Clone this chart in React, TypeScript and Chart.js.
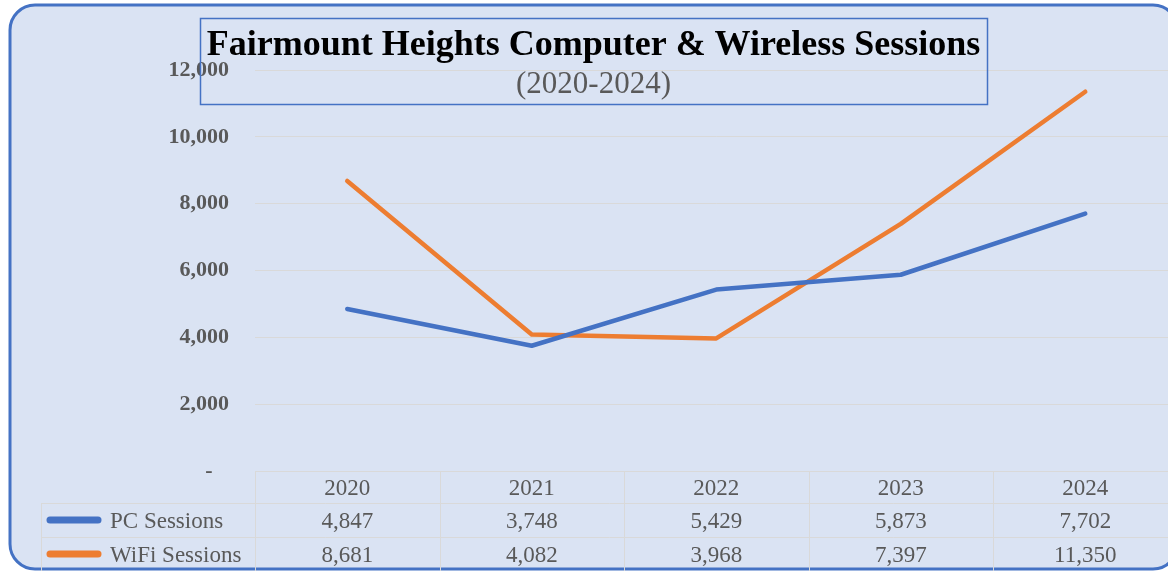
import React, { useEffect, useRef } from "react";
import { Chart, registerables } from "chart.js";

Chart.register(...registerables);

const years = ["2020", "2021", "2022", "2023", "2024"];
const pcSessions = [4847, 3748, 5429, 5873, 7702];
const wifiSessions = [8681, 4082, 3968, 7397, 11350];
const seriesNames = ["PC Sessions", "WiFi Sessions"];
const seriesColors = ["#4472c4", "#ed7d31"];
const titleText = "Fairmount Heights Computer & Wireless Sessions";
const subtitleText = "(2020-2024)";

const SERIF = "'Liberation Serif', 'Times New Roman', serif";
const CANVAS_W = 1200;
const CANVAS_H = 571;

const fmt = (v: number) => v.toLocaleString("en-US");

const decorPlugin = {
  id: "decor",
  beforeDraw(chart: any) {
    const ctx = chart.ctx as CanvasRenderingContext2D;
    ctx.save();
    ctx.fillStyle = "#ffffff";
    ctx.fillRect(0, 0, chart.width, chart.height);
    const x = 10, y = 5, w = 1168, h = 564, r = 25;
    ctx.beginPath();
    ctx.moveTo(x + r, y);
    ctx.lineTo(x + w - r, y);
    ctx.arcTo(x + w, y, x + w, y + r, r);
    ctx.lineTo(x + w, y + h - r);
    ctx.arcTo(x + w, y + h, x + w - r, y + h, r);
    ctx.lineTo(x + r, y + h);
    ctx.arcTo(x, y + h, x, y + h - r, r);
    ctx.lineTo(x, y + r);
    ctx.arcTo(x, y, x + r, y, r);
    ctx.closePath();
    ctx.fillStyle = "#dae3f3";
    ctx.fill();
    ctx.lineWidth = 3;
    ctx.strokeStyle = "#4472c4";
    ctx.stroke();
    ctx.restore();
  },
  afterDraw(chart: any) {
    const ctx = chart.ctx as CanvasRenderingContext2D;
    const xs = chart.scales.x;
    const area = chart.chartArea;
    const half = (xs.getPixelForValue(1) - xs.getPixelForValue(0)) / 2;
    const colLeft = xs.getPixelForValue(0) - half;
    const colRight = xs.getPixelForValue(years.length - 1) + half;
    const tableLeft = 41.5;
    const top = area.bottom;
    const rowBounds = [top, top + 32, top + 66, top + 100];

    ctx.save();
    // table grid lines
    ctx.strokeStyle = "#d9d9d9";
    ctx.lineWidth = 1;
    ctx.beginPath();
    ctx.moveTo(colLeft, rowBounds[0] + 0.5);
    ctx.lineTo(colRight, rowBounds[0] + 0.5);
    for (let r = 1; r < rowBounds.length; r++) {
      ctx.moveTo(tableLeft, rowBounds[r] + 0.5);
      ctx.lineTo(colRight, rowBounds[r] + 0.5);
    }
    for (let i = 0; i <= years.length; i++) {
      const px = Math.round(colLeft + i * 2 * half) + 0.5;
      ctx.moveTo(px, rowBounds[0]);
      ctx.lineTo(px, rowBounds[3]);
    }
    ctx.moveTo(tableLeft, rowBounds[1]);
    ctx.lineTo(tableLeft, rowBounds[3]);
    ctx.stroke();

    // header years
    ctx.fillStyle = "#595959";
    ctx.font = `23px ${SERIF}`;
    ctx.textAlign = "center";
    ctx.textBaseline = "alphabetic";
    years.forEach((yr, i) => {
      const cx = xs.getPixelForValue(i);
      ctx.fillText(yr, cx, (rowBounds[0] + rowBounds[1]) / 2 + 7.5);
    });
    const seriesData = [pcSessions, wifiSessions];
    seriesData.forEach((vals, s) => {
      const cy = (rowBounds[s + 1] + rowBounds[s + 2]) / 2;
      vals.forEach((v, i) => {
        ctx.fillText(fmt(v), xs.getPixelForValue(i), cy + 7.5);
      });
      // legend key
      ctx.strokeStyle = seriesColors[s];
      ctx.lineWidth = 7;
      ctx.lineCap = "round";
      ctx.beginPath();
      ctx.moveTo(50, cy);
      ctx.lineTo(98, cy);
      ctx.stroke();
      ctx.textAlign = "left";
      ctx.fillText(seriesNames[s], 110, cy + 7.5);
      ctx.textAlign = "center";
    });

    // title box
    ctx.strokeStyle = "#4472c4";
    ctx.lineWidth = 1.5;
    ctx.strokeRect(200.5, 18.5, 787, 86);
    ctx.fillStyle = "#000000";
    ctx.font = `bold 36px ${SERIF}`;
    ctx.textAlign = "center";
    ctx.fillText(titleText, 593.5, 55);
    ctx.fillStyle = "#595959";
    ctx.font = `31px ${SERIF}`;
    ctx.fillText(subtitleText, 593.5, 93);
    ctx.restore();
  },
};

export default function App() {
  const canvasRef = useRef<HTMLCanvasElement | null>(null);

  useEffect(() => {
    const canvas = canvasRef.current;
    if (!canvas) return;
    const chart = new Chart(canvas, {
      type: "line",
      data: {
        labels: years,
        datasets: [
          {
            label: seriesNames[0],
            data: pcSessions,
            borderColor: seriesColors[0],
            backgroundColor: seriesColors[0],
            borderWidth: 4.5,
            pointRadius: 0,
            tension: 0,
            borderCapStyle: "round",
            borderJoinStyle: "round",
          },
          {
            label: seriesNames[1],
            data: wifiSessions,
            borderColor: seriesColors[1],
            backgroundColor: seriesColors[1],
            borderWidth: 4.5,
            pointRadius: 0,
            tension: 0,
            borderCapStyle: "round",
            borderJoinStyle: "round",
          },
        ],
      },
      options: {
        responsive: false,
        animation: false,
        devicePixelRatio: 1,
        layout: { padding: { top: 70, bottom: 100, left: 0, right: CANVAS_W - 1177.5 } },
        plugins: {
          legend: { display: false },
          title: { display: false },
          tooltip: { enabled: false },
        },
        scales: {
          x: {
            type: "category",
            display: false,
            offset: true,
          },
          y: {
            min: 0,
            max: 12000,
            border: { display: false },
            grid: { color: "#d9d9d9", lineWidth: 1, drawTicks: false },
            afterFit: (scale: any) => {
              scale.width = 255;
            },
            ticks: {
              stepSize: 2000,
              padding: 26,
              color: "#595959",
              font: { family: SERIF, size: 22, weight: "bold" },
              callback: (v: any) => (Number(v) === 0 ? "-   " : fmt(Number(v))),
            },
          },
        },
      },
      plugins: [decorPlugin],
    });
    return () => chart.destroy();
  }, []);

  return (
    <div
      style={{
        position: "absolute",
        left: 0,
        top: 0,
        width: 1168,
        height: 571,
        overflow: "hidden",
        background: "#ffffff",
      }}
    >
      <canvas
        ref={canvasRef}
        width={CANVAS_W}
        height={CANVAS_H}
        style={{ display: "block", width: CANVAS_W, height: CANVAS_H }}
      />
    </div>
  );
}
